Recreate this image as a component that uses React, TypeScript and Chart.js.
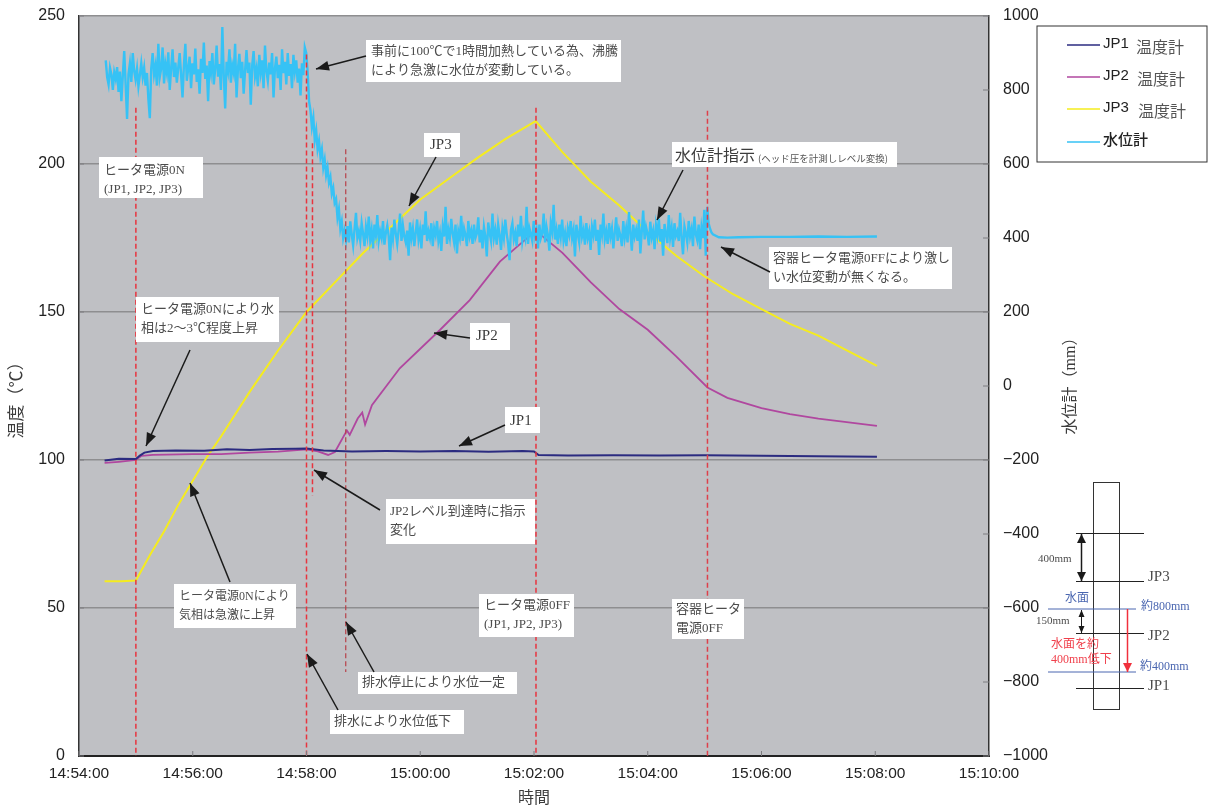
import React, { useEffect, useRef } from "react";
import { Chart, registerables } from "chart.js";

Chart.register(...registerables);

const xTickLabels = ["14:54:00", "14:56:00", "14:58:00", "15:00:00", "15:02:00", "15:04:00", "15:06:00", "15:08:00", "15:10:00"];

// minutes after 14:54:00
const jp3Minutes = [0.45, 0.75, 1.0, 1.25, 1.5, 1.75, 2.0, 2.25, 2.5, 3.0, 3.5, 4.0, 4.5, 5.0, 5.5, 6.0, 6.5, 7.0, 7.5, 8.03, 8.5, 9.0, 9.5, 10.0, 10.5, 11.0, 11.5, 12.0, 12.5, 13.0, 13.5, 14.03];
const jp3Temp = [59, 59, 59.3, 68, 76, 85, 93, 101, 108, 123, 137, 150, 160, 170, 179, 188, 195, 202, 208.5, 214.5, 204, 194, 186, 177, 169, 162, 156, 151, 146, 142, 137, 131.8];

const jp2Minutes = [0.45, 0.7, 1.0, 1.1, 1.3, 2.0, 2.5, 3.0, 3.5, 4.0, 4.2, 4.38, 4.5, 4.71, 4.76, 4.9, 4.98, 5.03, 5.15, 5.64, 6.35, 6.87, 7.4, 8.03, 8.5, 9.0, 9.5, 10.0, 10.5, 11.05, 11.4, 12.0, 12.5, 13.0, 14.03];
const jp2Temp = [99, 99.4, 100, 101.4, 101.7, 102, 102, 102.5, 102.8, 103.6, 102.9, 101.7, 102.7, 110, 108.5, 114, 116, 112, 118.5, 131, 144, 154, 167, 177.5, 170, 160, 151, 144, 135, 124.5, 121, 117.5, 115.5, 114, 111.5];

const jp1Minutes = [0.45, 0.7, 1.0, 1.07, 1.15, 1.3, 1.7, 2.2, 2.6, 3.0, 3.4, 3.8, 4.0, 4.3, 4.8, 5.4, 6.0, 6.6, 7.2, 7.8, 8.0, 8.08, 8.6, 9.4, 10.2, 11.0, 12.0, 13.0, 14.03];
const jp1Temp = [99.8, 100.4, 100.3, 101.5, 102.5, 103, 103.2, 103.1, 103.6, 103.4, 103.7, 103.8, 103.9, 103.2, 102.9, 103, 102.9, 103, 102.8, 103, 102.9, 101.7, 101.5, 101.6, 101.5, 101.6, 101.4, 101.3, 101.1];

// one reading every 1.5 s from the start of the record until the heater goes off
const waterStartMinute = 0.47;
const waterStepMinute = 0.025;
const waterLevelNoisy = [
  880, 835, 815, 860, 842, 800, 848, 830, 862, 795,
  850, 770, 838, 905, 815, 722, 842, 872, 822, 900,
  852, 828, 858, 810, 840, 872, 835, 860, 812, 846,
  775, 724, 858, 900, 842, 866, 812, 925, 835, 858,
  915, 818, 870, 846, 902, 800, 858, 910, 835, 874,
  820, 860, 900, 842, 780, 868, 925, 825, 858, 890,
  805, 872, 842, 912, 822, 856, 790, 884, 846, 928,
  830, 866, 770, 878, 848, 900, 815, 858, 920, 836,
  870, 800, 970, 842, 750, 876, 852, 910, 820, 866,
  846, 925, 780, 858, 898, 832, 876, 790, 852, 908,
  846, 874, 760, 866, 905, 836, 858, 810, 895, 848,
  880, 805, 920, 852, 825, 874, 842, 900, 780, 858,
  890, 832, 868, 800, 910, 846, 876, 815, 900, 838,
  870, 805, 895, 850, 880, 820, 858, 785, 872, 840,
  915,
  900, 850, 770, 745, 700, 725, 665, 690, 640, 662,
  620, 640, 590, 612, 570, 590, 550, 565, 520, 535,
  495, 505, 455, 478, 425, 445, 400, 420,
  395, 432, 388, 445, 410, 380, 425, 468, 400, 418,
  392, 440, 412, 378, 430, 405, 458, 395, 422, 372,
  436, 408, 462, 392, 418, 400, 446, 382, 414, 434,
  405, 340, 428, 398, 450, 412, 384, 422, 466, 392,
  434, 404, 388, 420, 352, 442, 400, 426, 378, 414,
  450, 396, 422, 372, 436, 408, 472, 392, 418, 400,
  440, 378, 426, 408, 446, 392, 414, 365, 430, 404,
  484, 384, 422, 400, 452, 412, 388, 436, 358, 418,
  400, 460, 392, 426, 408, 378, 446, 404, 420, 384,
  436, 400, 412, 456, 388, 422, 372, 430, 404, 350,
  442, 414, 392, 466, 400, 422, 382, 436, 408, 368,
  426, 400, 450, 412, 384, 340, 422, 440, 396, 414,
  378, 436, 404, 460, 392, 418, 400, 484, 384, 426,
  410, 392, 446, 404, 422, 372, 436, 400, 414, 466,
  388, 430, 408, 366, 440, 418, 490, 396, 422, 384,
  436, 404, 450, 392, 414, 378, 426, 408, 446, 400,
  422, 350, 436, 410, 388, 460, 404, 422, 382, 440,
  400, 418, 368, 430, 408, 450, 392, 422, 354, 436,
  410, 466, 396, 418, 384, 440, 404, 426, 372, 414,
  456, 392, 422, 406, 378, 446, 400, 426, 388, 470,
  414, 366, 436, 404, 422, 392, 450, 358, 418, 474,
  396, 430, 412, 380, 444, 402, 420, 370, 434, 408,
  452, 390, 424, 352, 438, 412, 386, 462, 402, 428,
  376, 440, 406, 418, 392, 468, 400, 356, 432, 412,
  388, 446, 404, 424, 378, 458, 410, 394, 436, 370,
  428, 400, 476, 352, 484,
  440, 425, 415, 410,
];
const waterCalmMinutes = [11.25, 11.4, 11.6, 12.0, 12.5, 13.0, 13.5, 14.03];
const waterCalm = [402, 401, 402, 403, 403, 404, 403, 404];

// red dashed event lines
const eventMinutes = [1.0, 4.0, 4.105, 4.69, 8.035, 11.05];
const eventTop = [219, 237, 207, 205, 219, 218];
const eventBottom = [0, 0, 88, 28.4, 0, 0];
const eventColors = ["#e8343f", "#e8343f", "#e8343f", "#b8404a", "#e8343f", "#de3f4a"];
const eventWidths = [1.5, 1.5, 1.5, 1.2, 1.5, 1.5];

const SERIF = '"Liberation Serif","Noto Sans CJK JP"';
const SANS = '"Liberation Sans","Noto Sans CJK JP"';
const CJK = '"Noto Sans CJK JP"';

const notes = [
  { size: 13, box: [99, 157, 203, 198], at: [104, 171], lines: ["ヒータ電源0N", "(JP1, JP2, JP3)"] },
  { size: 13, box: [366, 40, 621, 82], at: [371, 52], lines: ["事前に100℃で1時間加熱している為、沸騰", "により急激に水位が変動している。"] },
  { size: 13, box: [136, 297, 279, 342], at: [141, 310], lines: ["ヒータ電源0Nにより水", "相は2～3℃程度上昇"] },
  { size: 13, box: [769, 247, 952, 289], at: [773, 259], lines: ["容器ヒータ電源0FFにより激し", "い水位変動が無くなる。"] },
  { size: 13, box: [386, 499, 535, 544], at: [390, 512], lines: ["JP2レベル到達時に指示", "変化"] },
  { size: 12, box: [174, 584, 296, 628], at: [179, 597], lines: ["ヒータ電源0Nにより", "気相は急激に上昇"] },
  { size: 13, box: [479, 594, 574, 637], at: [484, 606], lines: ["ヒータ電源0FF", "(JP1, JP2, JP3)"] },
  { size: 13, box: [672, 599, 744, 639], at: [676, 610], lines: ["容器ヒータ", "電源0FF"] },
  { size: 13, box: [358, 672, 517, 694], at: [362, 683], lines: ["排水停止により水位一定"] },
  { size: 13, box: [330, 710, 464, 734], at: [334, 722], lines: ["排水により水位低下"] },
];
const tags = [
  { box: [424, 133, 460, 157], at: [430, 145], text: "JP3" },
  { box: [470, 323, 510, 350], at: [476, 336], text: "JP2" },
  { box: [505, 407, 540, 433], at: [510, 421], text: "JP1" },
];
const arrows = [
  [366, 56, 316, 69], [436, 157, 409, 206], [683, 170, 657, 220], [770, 272, 721, 247],
  [190, 350, 146, 446], [470, 338, 434, 333], [505, 425, 459, 446], [380, 510, 314, 470],
  [230, 582, 190, 483], [374, 672, 346, 622], [338, 710, 307, 654],
];
const legendItems = [
  { name: "JP1", suffix: "温度計", sx: 1136, color: "#2b2b80", y: 45 },
  { name: "JP2", suffix: "温度計", sx: 1137, color: "#b0479f", y: 77 },
  { name: "JP3", suffix: "温度計", sx: 1138, color: "#f5ec1e", y: 109 },
  { name: "水位計", suffix: "", sx: 0, color: "#36c2f5", y: 142 },
];

function arrow(ctx: CanvasRenderingContext2D, x0: number, y0: number, x1: number, y1: number, color: string, width: number, head: number, half: number, both = false) {
  const a = Math.atan2(y1 - y0, x1 - x0);
  const tip = (x: number, y: number, ang: number) => {
    ctx.beginPath();
    ctx.moveTo(x, y);
    ctx.lineTo(x - head * Math.cos(ang) + half * Math.sin(ang), y - head * Math.sin(ang) - half * Math.cos(ang));
    ctx.lineTo(x - head * Math.cos(ang) - half * Math.sin(ang), y - head * Math.sin(ang) + half * Math.cos(ang));
    ctx.closePath();
    ctx.fill();
  };
  ctx.strokeStyle = color;
  ctx.fillStyle = color;
  ctx.lineWidth = width;
  ctx.beginPath();
  ctx.moveTo(x0, y0);
  ctx.lineTo(x1, y1);
  ctx.stroke();
  tip(x1, y1, a);
  if (both) tip(x0, y0, a + Math.PI);
}

function hline(ctx: CanvasRenderingContext2D, x0: number, x1: number, y: number, color: string) {
  ctx.strokeStyle = color;
  ctx.lineWidth = 1;
  ctx.beginPath();
  ctx.moveTo(x0, y);
  ctx.lineTo(x1, y);
  ctx.stroke();
}

function label(ctx: CanvasRenderingContext2D, text: string, x: number, y: number, font: string, color: string) {
  ctx.font = font;
  ctx.fillStyle = color;
  ctx.fillText(text, x, y);
}

const plotBackground = {
  id: "plotBackground",
  beforeDraw(chart: any) {
    const { ctx, chartArea: a } = chart;
    ctx.save();
    ctx.fillStyle = "#bfc0c4";
    ctx.fillRect(a.left, a.top, a.right - a.left, a.bottom - a.top);
    ctx.restore();
  },
};

const overlays = {
  id: "overlays",
  afterDraw(chart: any) {
    const { ctx, chartArea: a, scales } = chart;
    ctx.save();
    ctx.textBaseline = "middle";
    ctx.textAlign = "left";

    // inner tick marks
    ctx.strokeStyle = "#7d7d80";
    ctx.lineWidth = 1;
    ctx.beginPath();
    scales.x.ticks.forEach((t: any) => {
      const p = scales.x.getPixelForValue(t.value);
      ctx.moveTo(p, a.bottom);
      ctx.lineTo(p, a.bottom - 5);
    });
    scales.y.ticks.forEach((t: any) => {
      const p = scales.y.getPixelForValue(t.value);
      ctx.moveTo(a.left, p);
      ctx.lineTo(a.left + 5, p);
    });
    scales.water.ticks.forEach((t: any) => {
      const p = scales.water.getPixelForValue(t.value);
      ctx.moveTo(a.right, p);
      ctx.lineTo(a.right - 6, p);
    });
    ctx.stroke();

    // call-out boxes
    notes.forEach((n) => {
      ctx.fillStyle = "#ffffff";
      ctx.fillRect(n.box[0], n.box[1], n.box[2] - n.box[0], n.box[3] - n.box[1]);
      n.lines.forEach((t, i) => label(ctx, t, n.at[0], n.at[1] + i * 19, `${n.size}px ${SERIF}`, "#4c4c4c"));
    });
    tags.forEach((n) => {
      ctx.fillStyle = "#ffffff";
      ctx.fillRect(n.box[0], n.box[1], n.box[2] - n.box[0], n.box[3] - n.box[1]);
      label(ctx, n.text, n.at[0], n.at[1], `15px ${SERIF}`, "#3c3c3c");
    });
    ctx.fillStyle = "#ffffff";
    ctx.fillRect(672, 142, 225, 25);
    label(ctx, "水位計指示", 675, 155, `16px ${CJK}`, "#3c3c3c");
    label(ctx, "(ヘッド圧を計測しレベル変換)", 758, 158, `9.5px ${CJK}`, "#555555");
    arrows.forEach((r) => arrow(ctx, r[0], r[1], r[2], r[3], "#1a1a1a", 1.5, 13, 5));

    // axis titles
    ctx.save();
    ctx.translate(16, 396);
    ctx.rotate(-Math.PI / 2);
    ctx.textAlign = "center";
    label(ctx, "温度（℃）", 0, 0, `17px ${CJK}`, "#3c3c3c");
    ctx.restore();
    ctx.save();
    ctx.translate(1071, 382);
    ctx.rotate(-Math.PI / 2);
    ctx.textAlign = "center";
    label(ctx, "水位計（mm）", 0, 0, `16px ${SERIF}`, "#3c3c3c");
    ctx.restore();

    // legend
    ctx.fillStyle = "#ffffff";
    ctx.fillRect(1037, 26, 170, 136);
    ctx.strokeStyle = "#333333";
    ctx.lineWidth = 1;
    ctx.strokeRect(1037, 26, 170, 136);
    legendItems.forEach((l) => {
      ctx.strokeStyle = l.color;
      ctx.lineWidth = 1.5;
      ctx.beginPath();
      ctx.moveTo(1067, l.y);
      ctx.lineTo(1100, l.y);
      ctx.stroke();
      label(ctx, l.name, 1103, l.y - 1, `${l.suffix ? "" : "500 "}15px ${SANS}`, "#222222");
      if (l.suffix) label(ctx, l.suffix, l.sx, l.y + 2, `16px ${CJK}`, "#555555");
    });

    // tank sketch
    ctx.strokeStyle = "#333333";
    ctx.lineWidth = 1;
    ctx.strokeRect(1093.5, 482.5, 26, 227);
    hline(ctx, 1076, 1144, 533.5, "#222222");
    hline(ctx, 1076, 1144, 581.5, "#222222");
    hline(ctx, 1076, 1144, 633.5, "#222222");
    hline(ctx, 1076, 1144, 688.5, "#222222");
    hline(ctx, 1048, 1136, 609, "#4a66b0");
    hline(ctx, 1048, 1136, 672, "#4a66b0");
    arrow(ctx, 1081.5, 534, 1081.5, 581, "#1a1a1a", 1.5, 9, 4.5, true);
    arrow(ctx, 1081.5, 610, 1081.5, 633, "#1a1a1a", 1, 7, 3, true);
    arrow(ctx, 1127.5, 609, 1127.5, 672, "#f0303c", 1.5, 9, 4.5);
    label(ctx, "JP3", 1148, 577, `15px ${SERIF}`, "#4c4c4c");
    label(ctx, "JP2", 1148, 636, `15px ${SERIF}`, "#4c4c4c");
    label(ctx, "JP1", 1148, 686, `15px ${SERIF}`, "#4c4c4c");
    label(ctx, "400mm", 1038, 559, `11px ${SERIF}`, "#4c4c4c");
    label(ctx, "150mm", 1036, 621, `11px ${SERIF}`, "#4c4c4c");
    label(ctx, "水面", 1065, 597, `12px ${CJK}`, "#4a66b0");
    label(ctx, "約800mm", 1141, 607, `12px ${SERIF}`, "#4a66b0");
    label(ctx, "約400mm", 1140, 667, `12px ${SERIF}`, "#4a66b0");
    label(ctx, "水面を約", 1051, 645, `12px ${SERIF}`, "#f0404c");
    label(ctx, "400mm低下", 1051, 660, `12px ${SERIF}`, "#f0404c");
    ctx.restore();
  },
};

export default function App() {
  const ref = useRef<HTMLCanvasElement>(null);
  useEffect(() => {
    const zip = (xs: number[], ys: number[]) => ys.map((y, i) => ({ x: xs[i], y }));
    const waterPoints = [
      ...waterLevelNoisy.map((y, i) => ({ x: waterStartMinute + i * waterStepMinute, y })),
      ...zip(waterCalmMinutes, waterCalm),
    ];
    const eventSets = eventMinutes.map((m, i) => ({
      label: `event ${i + 1}`,
      data: [{ x: m, y: eventTop[i] }, { x: m, y: eventBottom[i] }],
      yAxisID: "y",
      borderColor: eventColors[i],
      borderWidth: eventWidths[i],
      borderDash: [5, 3],
      pointRadius: 0,
    }));
    const chart = new Chart(ref.current as HTMLCanvasElement, {
      type: "line",
      data: {
        datasets: [
          ...eventSets,
          { label: "水位計", data: waterPoints, yAxisID: "water", borderColor: "#36c2f5", borderWidth: 2.4, pointRadius: 0 },
          { label: "JP1 温度計", data: zip(jp1Minutes, jp1Temp), yAxisID: "y", borderColor: "#2b2b80", borderWidth: 2, pointRadius: 0 },
          { label: "JP2 温度計", data: zip(jp2Minutes, jp2Temp), yAxisID: "y", borderColor: "#b0479f", borderWidth: 1.8, pointRadius: 0 },
          { label: "JP3 温度計", data: zip(jp3Minutes, jp3Temp), yAxisID: "y", borderColor: "#f5ec1e", borderWidth: 2, pointRadius: 0 },
        ],
      },
      options: {
        animation: false,
        responsive: false,
        devicePixelRatio: 1,
        layout: { padding: { left: 0, right: 0, top: 16, bottom: 0 } },
        plugins: { legend: { display: false }, tooltip: { enabled: false } },
        scales: {
          x: {
            type: "linear",
            min: 0,
            max: 16,
            afterFit(s: any) { s.height = 51; },
            border: { color: "#222222", width: 2 },
            grid: { display: false },
            ticks: {
              stepSize: 2,
              autoSkip: false,
              maxRotation: 0,
              padding: 0,
              color: "#222222",
              font: { family: SANS, size: 15.5 },
              callback: (v: any) => xTickLabels[Math.round(Number(v) / 2)],
            },
            title: { display: true, text: "時間", color: "#3c3c3c", font: { family: CJK, size: 16 }, padding: { top: 2, bottom: 0 } },
          },
          y: {
            position: "left",
            min: 0,
            max: 250,
            afterFit(s: any) { s.width = 79; s.paddingTop = 0; s.paddingBottom = 0; },
            border: { color: "#333333", width: 1.5 },
            grid: { color: "#8e8e90", lineWidth: 1.5, drawTicks: false },
            ticks: { stepSize: 50, padding: 14, color: "#222222", font: { family: SANS, size: 16 } },
          },
          water: {
            position: "right",
            min: -1000,
            max: 1000,
            afterFit(s: any) { s.width = 225; s.paddingTop = 0; s.paddingBottom = 0; },
            border: { color: "#333333", width: 1.5 },
            grid: { display: false, drawTicks: false },
            ticks: {
              stepSize: 200,
              padding: 14,
              color: "#222222",
              font: { family: SANS, size: 16 },
              callback: (v: any) => String(v).replace("-", "−"),
            },
          },
        },
      },
      plugins: [plotBackground, overlays],
    } as any);
    return () => chart.destroy();
  }, []);
  return (
    <div style={{ position: "absolute", left: 0, top: 0, width: 1214, height: 807, background: "#ffffff" }}>
      <canvas ref={ref} width={1214} height={807} style={{ display: "block" }} />
    </div>
  );
}
